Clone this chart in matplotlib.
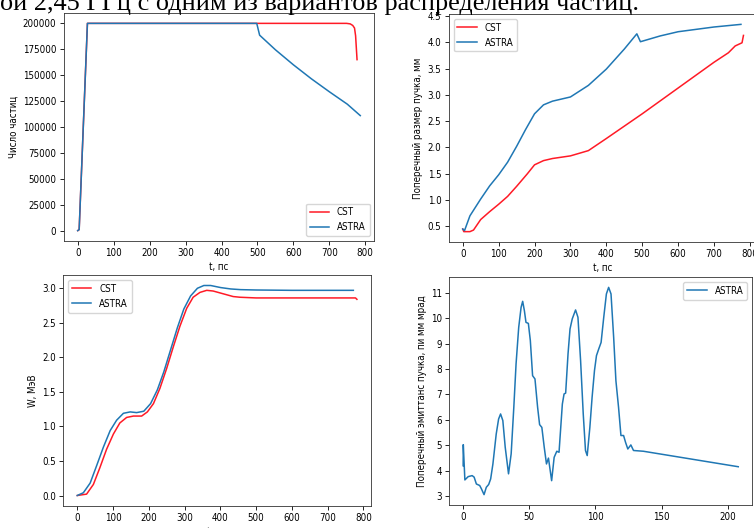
import matplotlib
matplotlib.use("Agg")
import matplotlib.pyplot as plt

# --- number of particles vs time ---
n_t_cst = [0, 4, 27, 748, 758, 765, 770, 773, 777]
n_cst = [0, 1000, 200000, 200000, 199500, 198000, 195500, 188000, 165000]
n_t_astra = [0, 4, 27, 498, 506, 550, 600, 650, 700, 750, 786]
n_astra = [0, 1000, 200000, 200000, 188600, 174500, 160000, 146500, 134000, 122000, 111000]

# --- transverse beam size vs time ---
r_t_cst = [0, 3, 20, 30, 50, 75, 100, 125, 150, 180, 200, 225, 250, 300, 350, 400,
           500, 600, 700, 740, 759, 778, 782]
r_cst = [0.45, 0.40, 0.40, 0.43, 0.63, 0.78, 0.92, 1.07, 1.26, 1.50, 1.67, 1.75, 1.79,
         1.84, 1.94, 2.17, 2.64, 3.13, 3.62, 3.80, 3.93, 3.99, 4.13]
r_t_astra = [0, 5, 20, 50, 75, 100, 125, 150, 175, 200, 225, 250, 300, 350, 400, 450,
             485, 495, 550, 600, 700, 775]
r_astra = [0.45, 0.42, 0.70, 1.02, 1.27, 1.48, 1.72, 2.02, 2.34, 2.64, 2.81, 2.88, 2.96,
           3.18, 3.49, 3.87, 4.16, 4.01, 4.12, 4.20, 4.29, 4.34]

# --- energy vs time ---
w_t_cst = [0, 26, 45, 63, 82, 101, 119, 138, 157, 180, 196, 213, 231, 250, 269, 287,
           306, 324, 343, 362, 380, 408, 436, 455, 500, 600, 700, 778, 782]
w_cst = [0, 0.02, 0.16, 0.40, 0.67, 0.89, 1.05, 1.13, 1.15, 1.15, 1.21, 1.33, 1.55, 1.84,
         2.16, 2.45, 2.71, 2.87, 2.94, 2.97, 2.96, 2.92, 2.88, 2.87, 2.86, 2.86, 2.86, 2.86, 2.84]
w_t_astra = [0, 17, 36, 54, 73, 92, 110, 129, 148, 166, 186, 205, 224, 242, 261, 280,
             298, 317, 336, 354, 373, 401, 429, 457, 500, 600, 700, 772]
w_astra = [0, 0.04, 0.18, 0.43, 0.70, 0.94, 1.09, 1.19, 1.21, 1.20, 1.22, 1.33, 1.53, 1.79,
           2.11, 2.43, 2.70, 2.89, 3.00, 3.04, 3.04, 3.01, 2.99, 2.98, 2.975, 2.97, 2.97, 2.97]

# --- transverse emittance vs z ---
e_z = [0, 0.1, 1.3, 3.8, 6.8, 8.3, 10, 12.5, 13.8, 15.8, 17.5, 19.3, 20.8, 22.5, 25, 26.8,
       28.3, 30, 31.8, 34.3, 36.3, 38.3, 40, 42, 43.8, 45, 46.3, 47.5, 49.3, 50.8, 52.5,
       54.3, 56.3, 57.8, 59.5, 61.3, 63, 64.5, 66.9, 68.8, 70.8, 72.5, 75, 76.3, 77.5,
       79.3, 80.8, 82.5, 85, 86.8, 88.8, 90.8, 92.5, 93.8, 95.8, 97.5, 99.3, 100.8, 102.5,
       104.3, 106.3, 108.3, 110, 111.8, 113.8, 115.5, 117.5, 119.3, 121.3, 122.8, 124.5,
       126.8, 128.8, 136.3, 208]
e_astra = [4.19, 5.02, 3.63, 3.76, 3.80, 3.74, 3.47, 3.41, 3.28, 3.05, 3.34, 3.45, 3.67,
           4.26, 5.44, 6.03, 6.23, 5.97, 4.92, 3.87, 4.66, 6.49, 8.20, 9.64, 10.43, 10.67,
           10.30, 9.84, 9.80, 9.12, 7.74, 7.61, 6.49, 5.81, 5.70, 4.92, 4.26, 4.49, 3.60,
           4.52, 4.76, 4.72, 6.62, 7.02, 7.05, 8.60, 9.58, 9.98, 10.33, 10.04, 8.33, 6.23,
           4.79, 4.59, 5.70, 6.89, 7.94, 8.53, 8.79, 9.05, 10.04, 10.96, 11.22, 10.96, 9.25,
           7.54, 6.49, 5.38, 5.38, 5.11, 4.85, 5.01, 4.79, 4.76, 4.15]

W, H = 754, 528
plt.rcParams['font.size'] = 7
plt.rcParams['font.stretch'] = 'condensed'
plt.rcParams['axes.linewidth'] = 0.6
plt.rcParams['xtick.major.size'] = 2.6
plt.rcParams['ytick.major.size'] = 2.6
plt.rcParams['xtick.major.width'] = 0.6
plt.rcParams['ytick.major.width'] = 0.6
plt.rcParams['xtick.major.pad'] = 2.6
plt.rcParams['ytick.major.pad'] = 2.6
plt.rcParams['axes.labelpad'] = 3
plt.rcParams['axes.edgecolor'] = '#333333'

fig = plt.figure(figsize=(W / 100, H / 100), dpi=100)


def box(left, right, top, bottom):
    return [left / W, 1 - bottom / H, (right - left) / W, (bottom - top) / H]


red, blue = '#ff1a26', '#1f77b4'
lw = 1.1

ax1 = fig.add_axes(box(63.6, 374.4, 13, 241))
ax1.plot(n_t_cst, n_cst, color=red, lw=lw, label='CST')
ax1.plot(n_t_astra, n_astra, color=blue, lw=lw, label='ASTRA')
ax1.set_xlabel('t, пс')
ax1.set_ylabel('Число частиц')
ax1.set_xticks(range(0, 801, 100))
ax1.legend(loc='lower right')

ax2 = fig.add_axes(box(448.7, 757.5, 14, 242))
ax2.plot(r_t_cst, r_cst, color=red, lw=lw, label='CST')
ax2.plot(r_t_astra, r_astra, color=blue, lw=lw, label='ASTRA')
ax2.set_xlabel('t, пс')
ax2.set_ylabel('Поперечный размер пучка, мм')
ax2.set_xticks(range(0, 801, 100))
ax2.legend(loc='upper left')

ax3 = fig.add_axes(box(63.3, 370.9, 275, 506))
ax3.plot(w_t_cst, w_cst, color=red, lw=lw, label='CST')
ax3.plot(w_t_astra, w_astra, color=blue, lw=lw, label='ASTRA')
ax3.set_xlabel('t, пс')
ax3.set_ylabel('W, МэВ')
ax3.set_xticks(range(0, 801, 100))
ax3.legend(loc='upper left')

ax4 = fig.add_axes(box(449.4, 752, 277, 505))
ax4.plot(e_z, e_astra, color=blue, lw=lw, label='ASTRA')
ax4.set_xlabel('z, мм')
ax4.set_ylabel('Поперечный эмиттанс пучка, пи мм мрад')
ax4.set_yticks(range(3, 12))
ax4.legend(loc='upper right')

fig.text(0, 1 - 10 / H, 'ой 2,45 ГГц с одним из вариантов распределения частиц.',
         family='Liberation Serif', fontstretch='normal', fontsize=18.9,
         ha='left', va='baseline', zorder=10)

fig.savefig('out.png', dpi=100)
